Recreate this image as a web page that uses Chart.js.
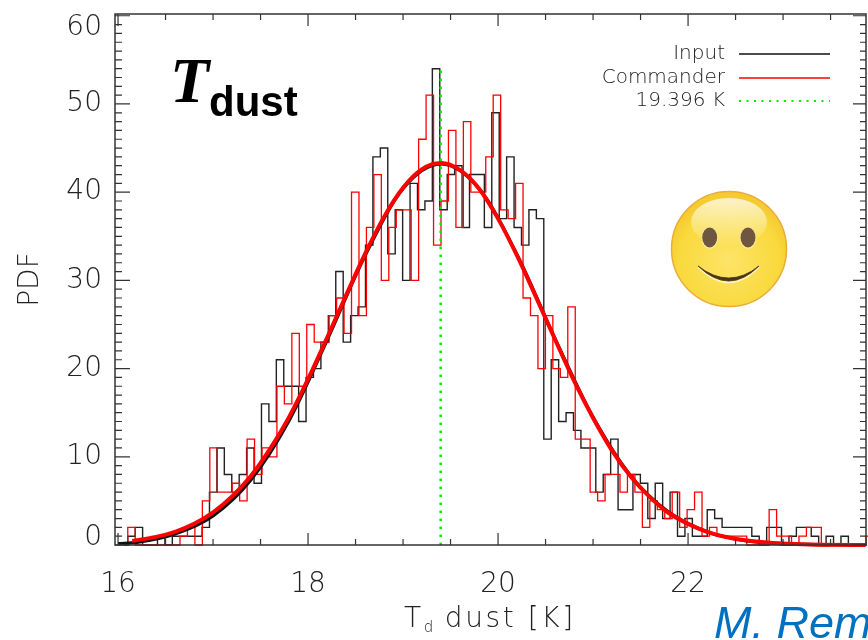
<!DOCTYPE html>
<html>
<head>
<meta charset="utf-8">
<title>T dust PDF</title>
<script src="https://cdn.jsdelivr.net/npm/chart.js@4/dist/chart.umd.min.js"></script>
<style>
  body { margin: 0; background: #fff; overflow: hidden; }
  #wrap { position: relative; width: 868px; height: 640px; overflow: hidden; }
  #wrap div, #wrap svg { position: absolute; white-space: nowrap; }
  #xtitle { left: 404px; top: 601px; font: 200 28px "DejaVu Sans"; letter-spacing: 2.6px; color: #222; }
  #xtitle sub { font-size: 15px; vertical-align: -5px; margin-right: 9px; }
  #tbig { left: 170px; top: 44px; font: italic bold 64px "Liberation Serif"; color: #000; }
  #tsub { left: 209px; top: 78px; font: bold 42px "Liberation Sans"; color: #000; }
  #credit { left: 714px; top: 597px; font: italic 45px "Liberation Sans"; color: #0070c0; }
</style>
</head>
<body>
<div id="wrap">
  <canvas id="pdfChart" width="868" height="640"></canvas>
  <div id="xtitle">T<sub>d</sub>dust [K]</div>
  <div id="tbig">T</div>
  <div id="tsub">dust</div>
  <div id="credit">M. Rem</div>
  <svg style="left:660px;top:180px" width="140" height="140" viewBox="660 180 140 140">
    <defs>
      <radialGradient id="face" cx="50%" cy="60%" r="55%">
        <stop offset="0" stop-color="#fde468"/>
        <stop offset="0.8" stop-color="#f9d93c"/>
        <stop offset="1" stop-color="#f5cb30"/>
      </radialGradient>
      <linearGradient id="shine" x1="0" y1="0" x2="0" y2="1">
        <stop offset="0" stop-color="#fff" stop-opacity="0.75"/>
        <stop offset="1" stop-color="#fff" stop-opacity="0"/>
      </linearGradient>
    </defs>
    <circle cx="729" cy="249" r="57.5" fill="url(#face)" stroke="#e9ad3c" stroke-width="1.5"/>
    <ellipse cx="729" cy="222" rx="38" ry="24" fill="url(#shine)"/>
    <ellipse cx="709.7" cy="238" rx="8" ry="10.5" fill="#fff3b0"/>
    <ellipse cx="748" cy="238" rx="8" ry="10.5" fill="#fff3b0"/>
    <ellipse cx="709.7" cy="237.5" rx="7.5" ry="10" fill="#6e5640"/>
    <ellipse cx="748" cy="237.5" rx="7.5" ry="10" fill="#6e5640"/>
    <path d="M698 267 Q729 298 759 267" fill="none" stroke="#fff6c4" stroke-width="1.5"/>
    <path d="M698 266 Q729 296 759 266 Q729 290 698 266 Z" fill="#4a3318" stroke="#4a3318" stroke-width="0.8"/>
  </svg>
</div>

<script>
// histogram bin counts, one per bin
const inputHist = [
  0, 1, 2, 0, 0, 1, 0, 1, 1, 1,
  1, 2, 6, 11, 8, 6, 8, 11, 7, 16,
  14, 21, 18, 18, 14, 19, 20, 23, 26, 31,
  23, 26, 27, 34, 44, 45, 33, 38, 30, 41,
  38, 39, 54, 38, 42, 43, 36, 42, 42, 36,
  49, 37, 44, 36, 34, 38, 37, 12, 21, 14,
  15, 13, 11, 11, 6, 8, 12, 4, 4, 8,
  7, 3, 7, 3, 6, 1, 3, 1, 1, 4,
  3, 2, 2, 2, 2, 1, 0, 2, 2, 0,
  1, 2, 2, 1, 0, 1, 0, 1, 0, 0, 0
];
const commanderHist = [
  0, 2, 0, 0, 0, 0, 0, 0, 1, 2,
  0, 5, 11, 6, 6, 7, 5, 12, 8, 11,
  10, 18, 16, 24, 18, 25, 23, 23, 26, 28,
  24, 40, 26, 36, 42, 30, 36, 38, 38, 30,
  46, 51, 34, 39, 47, 36, 48, 40, 40, 44,
  51, 38, 37, 41, 28, 26, 20, 26, 20, 19,
  27, 12, 12, 6, 5, 8, 8, 6, 8, 6,
  2, 5, 4, 3, 6, 2, 4, 6, 1, 2,
  1, 1, 1, 1, 0, 0, 0, 4, 1, 1,
  0, 1, 2, 2, 0, 0, 0, 0, 0, 0, 1
];
const histStart = 16.024;
const inputBinWidth = 0.0782;
const commanderBinWidth = 0.0785;

// fitted curves
const fitT = [16.15, 16.4, 16.6, 16.8, 17.0, 17.2, 17.4, 17.6, 17.8, 18.0, 18.2, 18.4, 18.6, 18.8, 19.0, 19.2, 19.4,
  19.6, 19.8, 20.0, 20.2, 20.4, 20.6, 20.8, 21.0, 21.2, 21.4, 21.6, 21.8, 22.0, 22.2, 22.4, 22.6, 22.8, 23.0, 23.2, 23.4, 23.87];
const commanderFit = [0.47, 0.92, 1.5, 2.4, 3.7, 5.5, 7.85, 10.9, 14.5, 18.8, 23.5, 28.3, 33.0, 37.2, 40.5, 42.6, 43.3,
  42.5, 40.4, 37.0, 32.8, 28.1, 23.3, 18.6, 14.4, 10.7, 7.7, 5.4, 3.6, 2.4, 1.5, 0.9, 0.53, 0.3, 0.16, 0.08, 0.04, 0];
const inputFitT = [16.0, 16.2, 16.6, 17.0, 17.4, 17.8, 18.2, 18.6, 19.0, 19.4, 19.8, 20.2, 20.6, 21.0, 21.4, 21.8, 22.2, 22.6, 23.0, 23.5];
const inputFit = [0.15, 0.3, 1.25, 3.3, 7.4, 14.1, 23.2, 32.8, 40.4, 43.2, 40.4, 32.9, 23.4, 14.5, 7.8, 3.7, 1.5, 0.5, 0.15, 0];

const meanT = 19.396;
const meanTop = 54.3;

const xTicks = [16, 18, 20, 22];
const xMinor = [16.5, 17, 17.5, 18.5, 19, 19.5, 20.5, 21, 21.5, 22.5, 23, 23.5];

const legendEntries = [
  { text: 'Input', color: '#111', dash: [], width: 1.5 },
  { text: 'Commander', color: '#f00', dash: [], width: 1.5 },
  { text: '19.396 K', color: '#00ee00', dash: [2, 5.5], width: 2 }
];

function histPoints(values, binWidth) {
  return values.map((v, k) => ({ x: histStart + (k + 0.5) * binWidth, y: v }));
}

function curvePoints(xs, ys) {
  return xs.map((x, i) => ({ x: x, y: ys[i] }));
}

const axisFont = { family: 'DejaVu Sans', size: 28, weight: '200' };
const inkColor = '#222';

// IDL style box: ticks point inward on all four sides
const boxTicks = {
  id: 'boxTicks',
  afterDatasetsDraw(chart) {
    const ctx = chart.ctx;
    const a = chart.chartArea;
    const xs = chart.scales.x;
    const ys = chart.scales.y;
    ctx.save();
    ctx.strokeStyle = '#333';
    ctx.lineWidth = 1.5;
    ctx.strokeRect(a.left, a.top, a.right - a.left, a.bottom - a.top);
    ctx.lineWidth = 1.2;
    ctx.beginPath();
    xTicks.concat(xMinor).forEach(v => {
      const px = xs.getPixelForValue(v);
      const len = xTicks.includes(v) ? 12 : 6;
      ctx.moveTo(px, a.bottom); ctx.lineTo(px, a.bottom - len);
      ctx.moveTo(px, a.top); ctx.lineTo(px, a.top + len);
    });
    for (let v = 0; v <= 60; v++) {
      const py = ys.getPixelForValue(v);
      const major = v % 10 === 0;
      ctx.moveTo(a.left, py); ctx.lineTo(a.left + (major ? 15 : 7), py);
      ctx.moveTo(a.right, py); ctx.lineTo(a.right - (major ? 13 : 6), py);
    }
    ctx.stroke();
    ctx.restore();
  }
};

const boxLegend = {
  id: 'boxLegend',
  afterDraw(chart) {
    const ctx = chart.ctx;
    const rows = [54, 78, 101];
    ctx.save();
    ctx.font = '200 20px "DejaVu Sans"';
    ctx.textAlign = 'right';
    ctx.textBaseline = 'middle';
    legendEntries.forEach((e, i) => {
      ctx.fillStyle = inkColor;
      ctx.fillText(e.text, 725, rows[i]);
      ctx.strokeStyle = e.color;
      ctx.lineWidth = e.width;
      ctx.setLineDash(e.dash);
      ctx.beginPath();
      ctx.moveTo(739, rows[i]);
      ctx.lineTo(830, rows[i]);
      ctx.stroke();
    });
    ctx.restore();
  }
};

new Chart(document.getElementById('pdfChart').getContext('2d'), {
  type: 'scatter',
  data: {
    datasets: [
      { label: 'Commander fit', data: curvePoints(fitT, commanderFit), showLine: true, borderColor: '#f00', borderWidth: 4,
        pointRadius: 0, cubicInterpolationMode: 'monotone', clip: 4, order: 0 },
      { label: '19.396 K', data: curvePoints([meanT, meanT], [0, meanTop]), showLine: true, borderColor: '#00ee00', borderWidth: 2.5,
        borderDash: [2.5, 5.5], pointRadius: 0, order: 1 },
      { label: 'Input fit', data: curvePoints(inputFitT, inputFit), showLine: true, borderColor: '#111', borderWidth: 3.2,
        pointRadius: 0, cubicInterpolationMode: 'monotone', clip: 4, order: 2 },
      { label: 'Commander', data: histPoints(commanderHist, commanderBinWidth), showLine: true, borderColor: '#f00', borderWidth: 1.3,
        pointRadius: 0, stepped: 'middle', clip: 2, order: 3 },
      { label: 'Input', data: histPoints(inputHist, inputBinWidth), showLine: true, borderColor: '#222', borderWidth: 1.4,
        pointRadius: 0, stepped: 'middle', clip: 2, order: 4 }
    ]
  },
  options: {
    responsive: false,
    animation: false,
    layout: { padding: { top: 14, right: 2, left: 0, bottom: 0 } },
    plugins: { legend: { display: false }, tooltip: { enabled: false } },
    scales: {
      x: {
        type: 'linear',
        min: 15.968,
        max: 23.873,
        afterFit(scale) { scale.height = 95; scale.paddingLeft = 0; scale.paddingRight = 0; },
        grid: { display: false, drawTicks: false },
        border: { display: false },
        ticks: { stepSize: 2, includeBounds: false, maxRotation: 0, padding: 23, color: inkColor, font: axisFont }
      },
      y: {
        min: 0,
        max: 60.2,
        afterFit(scale) { scale.width = 115; scale.paddingTop = 0; scale.paddingBottom = 0; },
        grid: { display: false, drawTicks: false },
        border: { display: false },
        title: { display: true, text: 'PDF', color: inkColor, font: axisFont, padding: { top: 14, bottom: 0 } },
        ticks: {
          stepSize: 10,
          includeBounds: false,
          padding: 13,
          color: inkColor,
          // end labels sit inside the box, the line height sets how far they move
          font(ctx) {
            let lineHeight = 0.72;
            if (ctx.tick && ctx.tick.value === 0) lineHeight = 0.5;
            if (ctx.tick && ctx.tick.value === 60) lineHeight = 0.85;
            return { family: 'DejaVu Sans', size: 28, weight: '200', lineHeight: lineHeight };
          },
          callback(value) {
            if (value === 0) return ['0', ''];
            if (value === 60) return ['', '60'];
            return String(value);
          }
        }
      }
    }
  },
  plugins: [boxTicks, boxLegend]
});
</script>
</body>
</html>
